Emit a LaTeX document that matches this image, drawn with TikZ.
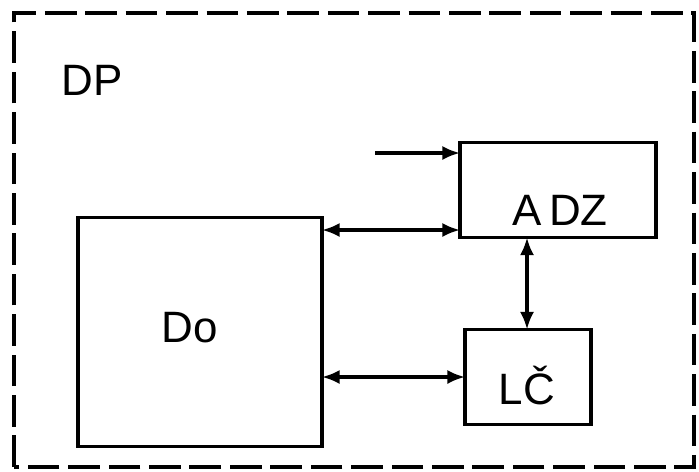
\documentclass[tikz,border=0pt]{standalone}
\usepackage{fontspec}
\setmainfont{Liberation Sans}
\usetikzlibrary{arrows.meta}
\tikzset{
  blok/.style={draw, line width=2pt, inner sep=0pt, outer sep=0pt},
  popis/.style={font=\fontsize{25}{25}\selectfont},
  spoj/.style={line width=1.8pt, {Latex[length=10pt,width=8pt]}-{Latex[length=10pt,width=8pt]}},
  vstup/.style={line width=1.8pt, -{Latex[length=10pt,width=8pt]}}
}
\begin{document}
\begin{tikzpicture}[x=0.02cm,y=-0.02cm]
  \useasboundingbox (0,0) rectangle (699,471);
  \draw [line width=2pt, dash pattern=on 18pt off 5pt] (14,467) -- (14,13) -- (694,13) -- (694,467) -- cycle;
  \node [popis] (dp) at (92,80) {DP};
  \node [blok, minimum width=244*0.02cm, minimum height=229*0.02cm] (do) at (200,332) {};
  \node [popis] (dotext) at (190,328) {Do};
  \node [blok, minimum width=196*0.02cm, minimum height=95*0.02cm] (adz) at (558,190) {};
  \node [popis] (adztext) at (560,210) {A\,DZ};
  \node [blok, minimum width=126*0.02cm, minimum height=95*0.02cm] (lc) at (528,377) {};
  \node [popis] (lctext) at (527,386) {LČ};
  \coordinate (in) at (375,153);
  \draw [vstup] (in) -- (in -| adz.west);
  \draw [spoj] (do.east |- 0,230) -- (adz.west |- 0,230);
  \draw [spoj] (do.east |- lc) -- (lc.west);
  \draw [spoj] (lc.north -| 527,0) -- (adz.south -| 527,0);
\end{tikzpicture}
\end{document}
